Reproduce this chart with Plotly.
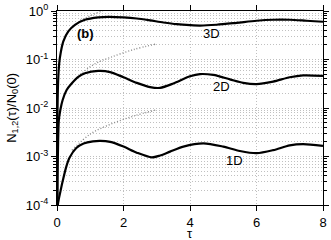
import math
import plotly.graph_objects as go

# ---- data ----
tau_3d = [0.003, 0.008, 0.012, 0.03, 0.055, 0.085, 0.19, 0.34, 0.54, 0.84, 1.24, 1.55,
          2.0, 2.4, 2.8, 3.2, 3.6, 4.0, 4.3, 4.8, 5.4, 6.0, 6.5, 7.0, 7.5, 8.0]
n_3d = [5e-5, 1e-3, 6e-3, 0.03, 0.067, 0.107, 0.237, 0.38, 0.52, 0.66, 0.74, 0.76,
        0.74, 0.70, 0.64, 0.58, 0.535, 0.51, 0.50, 0.52, 0.57, 0.63, 0.66, 0.66, 0.63, 0.60]

tau_2d = [0.008, 0.015, 0.03, 0.055, 0.1, 0.17, 0.29, 0.44, 0.64, 0.84, 1.24, 1.6, 2.0, 2.4, 2.8, 3.1, 3.5, 4.0,
          4.3, 4.7, 5.2, 5.6, 6.0, 6.5, 7.0, 7.4, 8.0]
n_2d = [5e-5, 3e-4, 1.5e-3, 0.0056, 0.0091, 0.0146, 0.0235, 0.032, 0.044, 0.052, 0.058, 0.055, 0.043, 0.033,
        0.027, 0.026, 0.032, 0.045, 0.050, 0.048, 0.039, 0.033, 0.031, 0.035, 0.043, 0.047, 0.046]

tau_1d = [0.005, 0.025, 0.11, 0.18, 0.28, 0.38, 0.58, 0.8, 1.08, 1.3, 1.6, 2.0, 2.4, 2.85, 3.1, 3.4, 3.8, 4.4, 5.0,
          5.5, 6.0, 6.5, 7.0, 7.4, 8.0]
n_1d = [3e-5, 1e-4, 2e-4, 3.3e-4, 6.2e-4, 9.5e-4, 1.5e-3, 1.85e-3, 2.05e-3, 2.1e-3, 2.0e-3, 1.6e-3, 1.2e-3, 9.6e-4,
        1.05e-3, 1.26e-3, 1.6e-3, 1.87e-3, 1.6e-3, 1.3e-3, 1.17e-3, 1.35e-3, 1.7e-3, 1.8e-3, 1.65e-3]

# short-time approximations (dotted)
tau_3d_short = [0.7, 0.9, 1.1, 1.35, 1.5]
n_3d_short = [0.64, 0.74, 0.86, 1.0, 1.08]
tau_2d_short = [0.45, 0.8, 1.19, 1.6, 2.3, 3.0]
n_2d_short = [0.032, 0.056, 0.085, 0.11, 0.16, 0.21]
tau_1d_short = [0.45, 1.0, 1.6, 2.3, 3.0]
n_1d_short = [1.35e-3, 2.9e-3, 4.6e-3, 6.8e-3, 9.2e-3]

x_ticks = [0, 2, 4, 6, 8]
y_tickvals = [1e-4, 1e-3, 1e-2, 1e-1, 1]
y_ticktext = ["10<sup>-4</sup>", "10<sup>-3</sup>", "10<sup>-2</sup>", "10<sup>-1</sup>", "10<sup>0</sup>"]
y_minor = [m * 10.0 ** e for e in range(-4, 0) for m in range(2, 10)]

labels = ["3D", "2D", "1D", "<b>(b)</b>"]
label_tau = [4.65, 4.96, 5.33, 0.85]
label_n = [0.35, 0.0275, 8.1e-4, 0.35]

FONT = "Liberation Sans, Arial, Helvetica, sans-serif"

fig = go.Figure()
for tx, ny in [(tau_3d_short, n_3d_short), (tau_2d_short, n_2d_short), (tau_1d_short, n_1d_short)]:
    fig.add_trace(go.Scatter(x=tx, y=ny, mode="lines",
                             line=dict(color="#8a8a8a", width=1.4, dash="1px,2px", shape="spline"),
                             showlegend=False, hoverinfo="skip"))
for tx, ny in [(tau_3d, n_3d), (tau_2d, n_2d), (tau_1d, n_1d)]:
    fig.add_trace(go.Scatter(x=tx, y=ny, mode="lines",
                             line=dict(color="black", width=2.2, shape="spline", smoothing=0.8),
                             showlegend=False, hoverinfo="skip"))

for lab, tx, ny in zip(labels, label_tau, label_n):
    fig.add_annotation(x=tx, y=math.log10(ny), yref="y", xref="x", text=lab, showarrow=False,
                       font=dict(size=13, color="black", family=FONT))
fig.add_annotation(x=0.5, y=-0.147, xref="paper", yref="paper", yanchor="middle", text="τ", showarrow=False,
                   font=dict(size=13, color="black", family=FONT))
fig.add_annotation(x=-0.17, y=0.5, xref="paper", yref="paper", xanchor="center", yanchor="middle",
                   textangle=-90, text="N<sub>1,2</sub>(τ)/N<sub>0</sub>(0)", showarrow=False,
                   font=dict(size=13, color="black", family=FONT))

grid = "#c0c0c0"
fig.update_layout(
    width=331, height=240,
    margin=dict(l=57, r=8, t=11, b=35),
    paper_bgcolor="white", plot_bgcolor="white",
    font=dict(family=FONT, size=13, color="black"),
    xaxis=dict(range=[0, 8], tickvals=x_ticks, ticks="outside", ticklen=5, tickcolor="black",
               ticklabelstandoff=0,
               showline=True, linecolor="black", linewidth=1, mirror="ticks", automargin=False,
               showgrid=True, gridcolor=grid, griddash="1px,2px", gridwidth=1, zeroline=False),
    yaxis=dict(type="log", range=[-4, 0], tickvals=y_tickvals, ticktext=y_ticktext,
               ticks="outside", ticklen=5, tickcolor="black", automargin=False,
               showline=True, linecolor="black", linewidth=1, mirror="ticks",
               showgrid=True, gridcolor=grid, griddash="1px,2px", gridwidth=1, zeroline=False,
               minor=dict(tickmode="array", tickvals=y_minor, ticks="outside", ticklen=3, tickcolor="black",
                          showgrid=True, gridcolor=grid, griddash="1px,2px", gridwidth=1)),
)
fig.write_html("out.html", config={"displayModeBar": False},
               post_script="document.body.style.margin='0';document.body.style.overflow='hidden';")
